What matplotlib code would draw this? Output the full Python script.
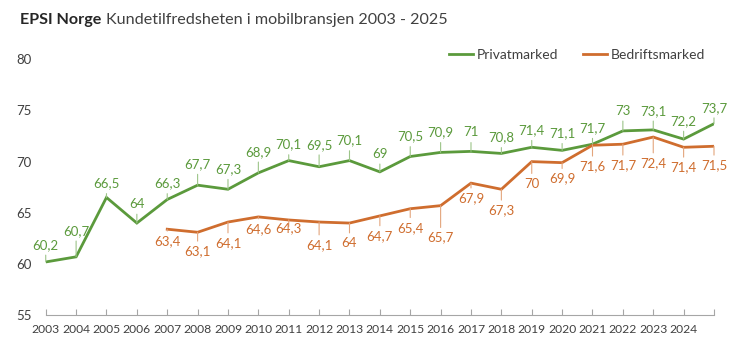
import matplotlib.pyplot as plt

plt.rcParams['font.family'] = ['Lato', 'DejaVu Sans']

# data
years = list(range(2003, 2026))
privat = [60.2, 60.7, 66.5, 64, 66.3, 67.7, 67.3, 68.9, 70.1, 69.5, 70.1, 69,
          70.5, 70.9, 71, 70.8, 71.4, 71.1, 71.7, 73, 73.1, 72.2, 73.7]
bedrift_years = list(range(2007, 2026))
bedrift = [63.4, 63.1, 64.1, 64.6, 64.3, 64.1, 64, 64.7, 65.4, 65.7, 67.9,
           67.3, 70, 69.9, 71.6, 71.7, 72.4, 71.4, 71.5]
tick_labels = [str(y) for y in range(2003, 2025)] + ['']

# label offsets in pixels (style only)
privat_dy = [17, 26, 14, 19, 16, 21, 20, 21, 16, 22, 20, 18, 20, 20, 19, 16,
             17, 17, 16, 20, 19, 18, 16]
bedrift_dy = [12, 19, 21, 12, 8, 23, 20, 20, 19, 32, 15, 21, 22, 16, 21, 21,
              26, 20, 19]

green = '#5b9a3c'
orange = '#cf6d2e'
green_lead = '#9cc488'
orange_lead = '#e3a57c'

fig = plt.figure(figsize=(7.46, 3.59), dpi=100)
ax = fig.add_axes([0.0613, 0.122, 0.8958, 0.713])

ax.plot(years, privat, color=green, lw=2.0, label='Privatmarked', solid_joinstyle='miter')
ax.plot(bedrift_years, bedrift, color=orange, lw=2.0, label='Bedriftsmarked', solid_joinstyle='miter')

def fmt(v):
    return ('%g' % v).replace('.', ',')

for x, v, dy in zip(years, privat, privat_dy):
    ax.annotate(fmt(v), xy=(x, v), xytext=(0, dy), textcoords='offset pixels',
                ha='center', va='center', color=green, fontsize=9.5,
                arrowprops=dict(arrowstyle='-', color=green_lead, lw=0.8,
                                shrinkA=1, shrinkB=0))

for x, v, dy in zip(bedrift_years, bedrift, bedrift_dy):
    ax.annotate(fmt(v), xy=(x, v), xytext=(0, -dy), textcoords='offset pixels',
                ha='center', va='center', color=orange, fontsize=9.5,
                arrowprops=dict(arrowstyle='-', color=orange_lead, lw=0.8,
                                shrinkA=1, shrinkB=0))

ax.set_xlim(2003, 2025)
ax.set_ylim(55, 80)
ax.set_xticks(years)
ax.set_xticklabels(tick_labels)
ax.set_yticks([55, 60, 65, 70, 75, 80])

for s in ['top', 'right', 'left']:
    ax.spines[s].set_visible(False)
ax.spines['bottom'].set_color('#a6a6a6')
ax.tick_params(axis='x', direction='in', length=4, color='#a6a6a6',
               labelsize=8.7, labelcolor='#404040', pad=6)
ax.tick_params(axis='y', length=0, labelsize=9.5, labelcolor='#404040', pad=10)

ax.legend(loc='center right', bbox_to_anchor=(718 / 746, 1 - 55 / 359),
          bbox_transform=fig.transFigure, ncol=2, frameon=False,
          fontsize=10, handlelength=1.7, columnspacing=1.8, handletextpad=0.3,
          labelcolor='#404040')

t1 = fig.text(20 / 746, 1 - 20 / 359, 'EPSI Norge', fontsize=11.6, fontweight='bold',
              color='#262626', va='center', ha='left')
ax.annotate('Kundetilfredsheten i mobilbransjen 2003 - 2025', xy=(1, 0.5),
            xycoords=t1, xytext=(3, 0), textcoords='offset points',
            va='center', ha='left', fontsize=11.6, color='#404040',
            annotation_clip=False)

fig.savefig('out.png', dpi=100)
